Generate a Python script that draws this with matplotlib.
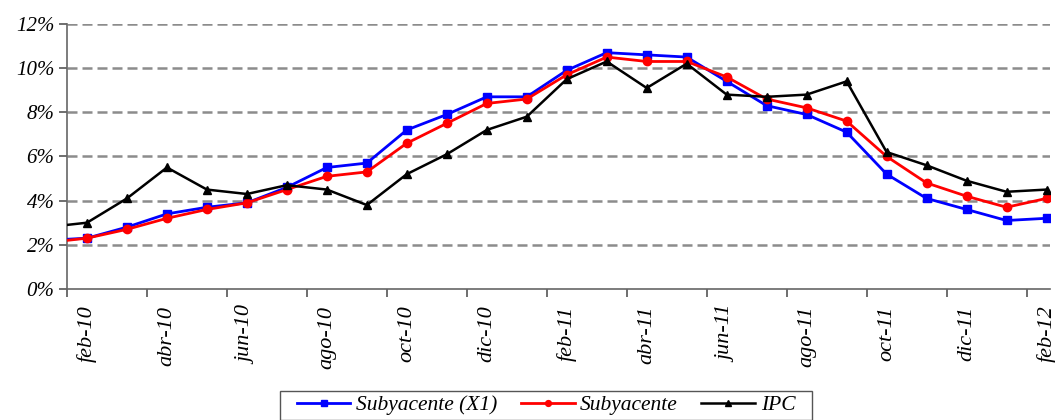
import matplotlib
matplotlib.use('Agg')
import matplotlib.pyplot as plt
from matplotlib.patches import Rectangle
from matplotlib.ticker import FuncFormatter, FixedLocator

# Monthly data, jan-10 .. feb-12 (jan-10 only feeds the clipped segment at the left edge)
months = ['ene-10', 'feb-10', 'mar-10', 'abr-10', 'may-10', 'jun-10', 'jul-10', 'ago-10',
          'sep-10', 'oct-10', 'nov-10', 'dic-10', 'ene-11', 'feb-11', 'mar-11', 'abr-11',
          'may-11', 'jun-11', 'jul-11', 'ago-11', 'sep-11', 'oct-11', 'nov-11', 'dic-11',
          'ene-12', 'feb-12']
subyacente_x1 = [2.2, 2.3, 2.8, 3.4, 3.7, 3.9, 4.6, 5.5, 5.7, 7.2, 7.9, 8.7, 8.7, 9.9,
                 10.7, 10.6, 10.5, 9.4, 8.3, 7.9, 7.1, 5.2, 4.1, 3.6, 3.1, 3.2]
subyacente = [2.1, 2.3, 2.7, 3.2, 3.6, 3.9, 4.5, 5.1, 5.3, 6.6, 7.5, 8.4, 8.6, 9.7,
              10.5, 10.3, 10.3, 9.6, 8.6, 8.2, 7.6, 6.0, 4.8, 4.2, 3.7, 4.1]
ipc = [2.8, 3.0, 4.1, 5.5, 4.5, 4.3, 4.7, 4.5, 3.8, 5.2, 6.1, 7.2, 7.8, 9.5,
       10.3, 9.1, 10.2, 8.8, 8.7, 8.8, 9.4, 6.2, 5.6, 4.9, 4.4, 4.5]

plt.rcParams['font.family'] = 'Liberation Serif'
plt.rcParams['font.style'] = 'italic'

x = list(range(-1, len(months) - 1))  # feb-10 sits at 0

fig = plt.figure(figsize=(10.55, 4.2), dpi=100)
ax = fig.add_axes([0.0635, 0.312, 0.9315, 0.631])

ax.plot(x, subyacente_x1, color='#0000ff', lw=2.0, marker='s', ms=6, label='Subyacente (X1)', zorder=3)
ax.plot(x, subyacente, color='#ff0000', lw=2.0, marker='o', ms=6, label='Subyacente', zorder=4)
ax.plot(x, ipc, color='black', lw=1.8, marker='^', ms=6, label='IPC', zorder=5)

ax.set_xlim(-0.5, 24.08)
ax.set_ylim(0, 12)

# y grid, dashed gray
ax.set_yticks(range(0, 13, 2))
ax.yaxis.set_major_formatter(FuncFormatter(lambda v, p: f'{v:.0f}%'))
for v in range(2, 13, 2):
    ax.axhline(v, color='#8c8c8c', lw=1.8, ls=(0, (4, 2)), zorder=1)

# tick marks between categories, labels on every other month
ax.xaxis.set_major_locator(FixedLocator([i - 0.5 for i in range(0, 25, 2)]))
ax.xaxis.set_major_formatter(FuncFormatter(lambda v, p: ''))
ax.xaxis.set_minor_locator(FixedLocator(list(range(0, 25, 2))))
ax.set_xticklabels([months[i + 1] for i in range(0, 25, 2)], minor=True, rotation=90,
                   fontsize=16)
ax.tick_params(axis='x', which='minor', length=0, pad=12)
ax.tick_params(axis='x', which='major', length=6, width=1.2, color='#555555')
ax.tick_params(axis='y', length=6, width=1.2, color='#555555', labelsize=15, pad=3)

for side in ['top', 'right']:
    ax.spines[side].set_visible(False)
for side in ['left', 'bottom']:
    ax.spines[side].set_color('#666666')
    ax.spines[side].set_linewidth(1.2)

leg = fig.legend(loc='upper center', bbox_to_anchor=(0.5175, 0.069), ncol=3, frameon=False,
                 fontsize=15.5, handlelength=2.5, columnspacing=1.1, handletextpad=0.25,
                 borderpad=0.2, borderaxespad=0, markerscale=0.7)

# box drawn by hand, wider than the entries like the reference
fig.canvas.draw()
bb = leg.get_window_extent()
W, H = fig.bbox.width, fig.bbox.height
fig.patches.append(Rectangle(((bb.x0 - 12) / W, bb.y0 / H), (bb.width + 24) / W, bb.height / H,
                             transform=fig.transFigure, fill=False, edgecolor='#555555', lw=1.0))

fig.savefig('out.png', dpi=100)
